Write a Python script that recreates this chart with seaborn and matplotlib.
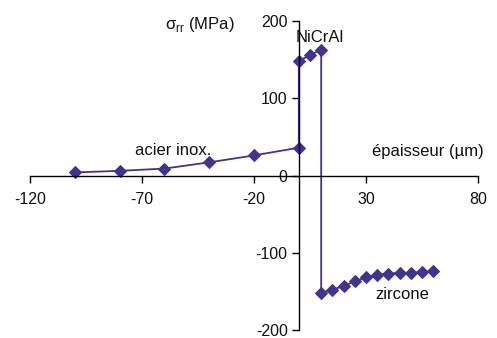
import numpy as np
import pandas as pd
import seaborn as sns
import matplotlib.pyplot as plt

# stress profile through the coating (steel -> NiCrAl -> zirconia)
x_acier = [-100, -80, -60, -40, -20, 0]
y_acier = [4, 6, 9, 17, 26, 36]
x_nicral = [0, 5, 10]
y_nicral = [148, 156, 163]
x_zircone = [10, 15, 20, 25, 30, 35, 40, 45, 50, 55, 60]
y_zircone = [-152, -148, -143, -137, -132, -129, -127, -126, -126, -125, -124]

x_ticks = [-120, -70, -20, 30, 80]
y_ticks = [-200, -100, 0, 100, 200]

df = pd.DataFrame({'x': x_acier + x_nicral + x_zircone,
                   'y': y_acier + y_nicral + y_zircone})

sns.set_style('white')
plt.rcParams['font.family'] = ['Liberation Sans', 'DejaVu Sans']
plt.rcParams['axes.unicode_minus'] = False

fig = plt.figure(figsize=(4.97, 3.38), dpi=100)
ax = fig.add_axes([30 / 497, 8 / 338, 448 / 497, 309 / 338])

col = '#3f3393'
sns.lineplot(data=df, x='x', y='y', sort=False, estimator=None, ax=ax,
             color=col, linewidth=1.3, marker='D', markersize=6.5,
             markeredgecolor=col, markerfacecolor=col)

ax.set_xlim(-120, 80)
ax.set_ylim(-200, 200)
ax.set_xticks(x_ticks)
ax.set_yticks(y_ticks)
ax.set_xlabel('')
ax.set_ylabel('')

for s in ['top', 'right']:
    ax.spines[s].set_visible(False)
ax.spines['left'].set_position(('data', 0))
ax.spines['bottom'].set_position(('data', 0))
for s in ['left', 'bottom']:
    ax.spines[s].set_color('black')
    ax.spines[s].set_linewidth(1.0)
ax.tick_params(axis='both', direction='out', length=5, width=1.0,
               bottom=True, left=True,
               color='black', labelsize=11.5, labelcolor='#111111')
ax.tick_params(axis='x', pad=7)
ax.tick_params(axis='y', pad=3)

fs = 12
tc = '#111111'
ax.text(-44, 195, r'σ$_{\mathregular{rr}}$ (MPa)', ha='center', va='center', fontsize=fs, color=tc)
ax.text(9.5, 179, 'NiCrAl', ha='center', va='center', fontsize=fs, color=tc)
ax.text(-56, 33, 'acier inox.', ha='center', va='center', fontsize=fs, color=tc)
ax.text(57.5, 31, 'épaisseur (µm)', ha='center', va='center', fontsize=fs, color=tc)
ax.text(46, -154, 'zircone', ha='center', va='center', fontsize=fs, color=tc)

fig.savefig('out.png', dpi=100)
